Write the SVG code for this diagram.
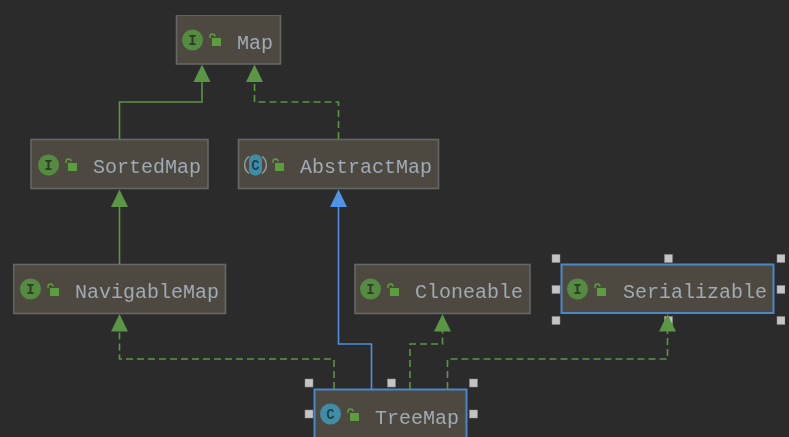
<svg xmlns="http://www.w3.org/2000/svg" width="789" height="437" viewBox="0 0 789 437">
<style>
.n{fill:#4d4a40;stroke:#666;stroke-width:1.6}
.s{fill:#4d4a40;stroke:#4a88c7;stroke-width:2}
.t{font-family:"Liberation Mono","DejaVu Sans Mono",monospace;font-size:20px;fill:#a0aab5}
.ib{font-family:"Liberation Mono",monospace;font-size:14px;font-weight:bold;text-anchor:middle}
.g{fill:#548b3f}.b{fill:#3f8da8}
.lock{fill:#5c9e3e}
.la{fill:none;stroke:#5c9e3e;stroke-width:1.4}
.e{fill:none;stroke:#5a9645;stroke-width:1.6}
.d{stroke-dasharray:7 4}
.h{fill:#c4c4c4;stroke:#8a8a8a;stroke-width:.5}
</style>
<defs>
<filter id="soft" x="0" y="0" width="100%" height="100%"><feGaussianBlur stdDeviation="0.45"/></filter>
<g id="lk"><rect x="1" y="-1" width="9" height="8" class="lock"/><path d="M-1 -1V-2.500a2.500 2.500 0 0 1 5 0" class="la"/></g>
<g id="ii"><circle r="10.500" class="g"/><text y="4.500" class="ib" fill="#2f3a28">I</text></g>
<g id="ci"><circle r="10.500" class="b"/><text y="4.500" class="ib" fill="#24424e">C</text></g>
</defs>
<rect width="789" height="437" fill="#2b2b2b"/>
<g filter="url(#soft)">
<g id="node-map"><rect class="n" x="176.500" y="15" width="104" height="49"/><use href="#ii" x="192.500" y="40"/><use href="#lk" x="211" y="39"/><text class="t" x="237" y="48.500">Map</text></g>
<g id="node-sortedmap"><rect class="n" x="31" y="139.500" width="177" height="49"/><use href="#ii" x="48.500" y="165"/><use href="#lk" x="67" y="164"/><text class="t" x="93" y="173">SortedMap</text></g>
<g id="node-abstractmap"><rect class="n" x="238.500" y="139.500" width="200" height="49"/><path d="M249 156.500a10.500 10.500 0 0 0 0 17M262 156.500a10.500 10.500 0 0 1 0 17" fill="none" stroke="#9a9a9a" stroke-width="1.500"/><rect x="249" y="154.500" width="13" height="21" rx="6" class="b"/><text x="255.500" y="169.500" class="ib" fill="#24424e">C</text><use href="#lk" x="274" y="164"/><text class="t" x="300" y="173">AbstractMap</text></g>
<g id="node-navigablemap"><rect class="n" x="13.500" y="264.500" width="212" height="49"/><use href="#ii" x="30.500" y="289"/><use href="#lk" x="49" y="289"/><text class="t" x="75" y="298">NavigableMap</text></g>
<g id="node-cloneable"><rect class="n" x="355" y="264.500" width="175" height="49"/><use href="#ii" x="370.500" y="289"/><use href="#lk" x="389" y="289"/><text class="t" x="415" y="298">Cloneable</text></g>
<g id="node-serializable"><rect class="s" x="561.500" y="264.500" width="212" height="48.500"/><use href="#ii" x="577.500" y="289"/><use href="#lk" x="596" y="289"/><text class="t" x="623" y="298">Serializable</text>
<rect class="h" x="552" y="254.500" width="8" height="8"/><rect class="h" x="664.500" y="254.500" width="8" height="8"/><rect class="h" x="777" y="254.500" width="8" height="8"/><rect class="h" x="552" y="285.500" width="8" height="8"/><rect class="h" x="777" y="285.500" width="8" height="8"/><rect class="h" x="552" y="316.500" width="8" height="8"/><rect class="h" x="664.500" y="316.500" width="8" height="8"/><rect class="h" x="777" y="316.500" width="8" height="8"/></g>
<g id="node-treemap"><rect class="s" x="314.500" y="389.500" width="152" height="50"/><use href="#ci" x="330.500" y="414"/><use href="#lk" x="349" y="414"/><text class="t" x="375" y="423.500">TreeMap</text>
<rect class="h" x="305" y="379" width="8" height="8"/><rect class="h" x="387.500" y="379" width="8" height="8"/><rect class="h" x="469.500" y="379" width="8" height="8"/><rect class="h" x="305" y="410" width="8" height="8"/><rect class="h" x="469.500" y="410" width="8" height="8"/></g>
<g id="connectors">
<path class="e" d="M119.500 139V102H202V80"/>
<path class="e d" d="M338.500 139V102H254.500V80"/>
<path class="e" d="M119.500 264V205"/>
<path class="e d" d="M334 389V359H119.500V330"/>
<path d="M371.500 389V344H338.500V205" fill="none" stroke="#4f8fdc" stroke-width="1.600"/>
<path class="e d" d="M410 389V344H442.500V330"/>
<path class="e d" d="M447.500 389V359H667.500V330"/>
<path d="M202 64.500L193.500 82H210.500Z M254.500 64.500L246 82H263Z M119.500 189.500L111 207H128Z M119.500 314L111 331.500H128Z M442.500 314L434 331.500H451Z M667.500 314L659 331.500H676Z" fill="#5a9645"/>
<path d="M338.500 189.500L330 207H347Z" fill="#5094e6"/>
</g>
</g>
</svg>
